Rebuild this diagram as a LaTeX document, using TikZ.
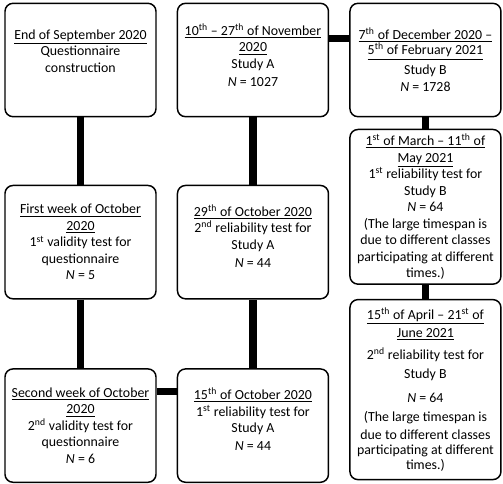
\documentclass[tikz,border=0pt]{standalone}
\usepackage{fontspec}
\setmainfont{Carlito}
\usetikzlibrary{positioning}

\newcommand{\dt}[1]{\underline{#1}}
\newcommand{\ord}[1]{\textsuperscript{#1}}
\newcommand{\boxfont}{\fontsize{10.4}{12.4}\selectfont\lineskiplimit-20pt\relax}

\begin{document}
\begin{tikzpicture}[
    x=0.75pt, y=-0.75pt,
    node distance=50.5pt and 15pt,
    stage/.style={draw, line width=1.1pt, rounded corners=6pt, align=center,
        minimum width=113.25pt, minimum height=85pt, inner xsep=2pt, inner ysep=1pt,
        font=\boxfont},
    link/.style={line width=5.7pt}
]
\useasboundingbox (0,0) rectangle (503,483);

% Left column: questionnaire
\node[stage] (b1) at (80.5,60) {\dt{End of September 2020}\\ Questionnaire\\ construction\\[1pt]\mbox{}};
\node[stage, below=of b1] (b6) {\dt{First week of October}\\ \dt{2020}\\ 1\ord{st} validity test for\\ questionnaire\\ \textit{N} = 5};
\node[stage, below=51.5pt of b6] (b8) {\dt{Second week of October}\\ \dt{2020}\\ 2\ord{nd} validity test for\\ questionnaire\\ \textit{N} = 6};

% Middle column: Study A
\node[stage, right=of b1] (b2) {\dt{10\ord{th} -- 27\ord{th} of November}\\ \dt{2020}\\ Study A\\[1pt] \textit{N} = 1027\\[-5pt]\mbox{}};
\node[stage, right=of b6] (b7) {\dt{29\ord{th} of October 2020}\\ 2\ord{nd} reliability test for\\ Study A\\[1pt] \textit{N} = 44\\[-3pt]\mbox{}};
\node[stage, right=of b8] (b9) {\dt{15\ord{th} of October 2020}\\ 1\ord{st} reliability test for\\ Study A\\[1pt] \textit{N} = 44\\[-3pt]\mbox{}};

% Right column: Study B
\node[stage, right=of b2] (b3) {\dt{7\ord{th} of December 2020 --}\\[-1pt] \dt{5\ord{th} of February 2021}\\[2pt] Study B\\[1pt] \textit{N} = 1728};
\node[stage, below=8.5pt of b3, minimum height=116pt] (b4) {\dt{1\ord{st} of March -- 11\ord{th} of}\\ \dt{May 2021}\\ 1\ord{st} reliability test for\\ Study B\\ \textit{N} = 64\\ (The large timespan is\\ due to different classes\\ participating at different\\ times.)};
\node[stage, below=10.5pt of b4, minimum height=135pt] (b5) {\dt{15\ord{th} of April -- 21\ord{st} of}\\[1pt] \dt{June 2021}\\[4pt] 2\ord{nd} reliability test for\\[2.5pt] Study B\\[5pt] \textit{N} = 64\\[2.5pt] (The large timespan is\\[0.5pt] due to different classes\\[-1pt] participating at different\\[-1pt] times.)};

% Timeline links
\draw[link] (b1) -- (b6);
\draw[link] (b6) -- (b8);
\draw[link] ([yshift=-17.5pt]b8.north east) -- ([yshift=-17.5pt]b9.north west);
\draw[link] (b9) -- (b7);
\draw[link] (b7) -- (b2);
\draw[link] ([yshift=-27pt]b2.north east) -- ([yshift=-27pt]b3.north west);
\draw[link] (b3) -- (b4);
\draw[link] (b4) -- (b5);
\end{tikzpicture}
\end{document}
